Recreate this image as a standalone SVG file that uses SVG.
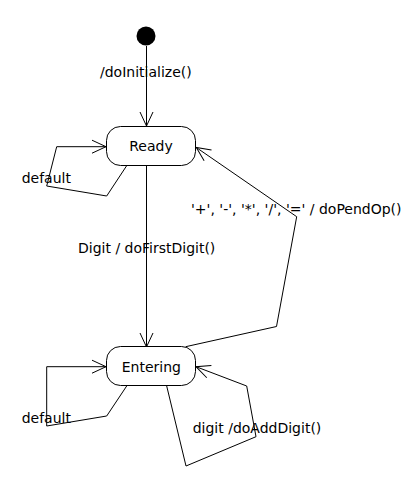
<svg xmlns="http://www.w3.org/2000/svg" width="419" height="483" viewBox="0 0 419 483">
<style>
text{font-family:"DejaVu Sans",sans-serif;font-size:14px;fill:#000}
.st{fill:#fff;stroke:#000;stroke-width:1}
.c{fill:none;stroke:#000;stroke-width:1}
</style>
<defs>
<marker id="a" markerUnits="userSpaceOnUse" markerWidth="20" markerHeight="20" refX="15" refY="7" orient="auto" viewBox="0 0 20 14" overflow="visible">
<path d="M1,0.5 L15,7 L1,13.5" fill="none" stroke="#000" stroke-width="1"/>
</marker>
</defs>
<g id="connectors">
<g id="e-init"><path class="c" d="M146.5,46 L146.5,126" marker-end="url(#a)"/><text x="100" y="77">/doInitialize()</text></g>
<g id="e-ready-default"><path class="c" d="M126.7,165.7 L106.7,196 L46.7,186 L56.7,146.7 L106,146.7" marker-end="url(#a)"/><text x="21.7" y="183">default</text></g>
<g id="e-digit"><path class="c" d="M146.5,165.5 L146.5,347" marker-end="url(#a)"/><text x="78" y="253">Digit / doFirstDigit()</text></g>
<g id="e-pendop"><path class="c" d="M185.7,346.7 L276.5,326.5 L296.7,216.7 L196.3,147.5" marker-end="url(#a)"/><text x="191" y="213.5">'+', '-', '*', '/', '=' / doPendOp()</text></g>
<g id="e-entering-default"><path class="c" d="M126.7,386 L106.7,416 L46.7,426 L46.7,366.7 L106,366.7" marker-end="url(#a)"/><text x="21.7" y="423">default</text></g>
<g id="e-adddigit"><path class="c" d="M166.7,386 L186,466 L256,436.7 L246.7,386 L196,366.7" marker-end="url(#a)"/><text x="192.7" y="432.5">digit /doAddDigit()</text></g>
</g>
<g id="initial"><circle cx="146" cy="36" r="9.5" fill="#000"/></g>
<g id="ready"><rect class="st" x="106.5" y="126.5" width="89" height="39" rx="14" ry="14"/><text x="151" y="151" text-anchor="middle">Ready</text></g>
<g id="entering"><rect class="st" x="106.5" y="346.5" width="89" height="39" rx="14" ry="14"/><text x="151.3" y="371.5" text-anchor="middle">Entering</text></g>
</svg>
